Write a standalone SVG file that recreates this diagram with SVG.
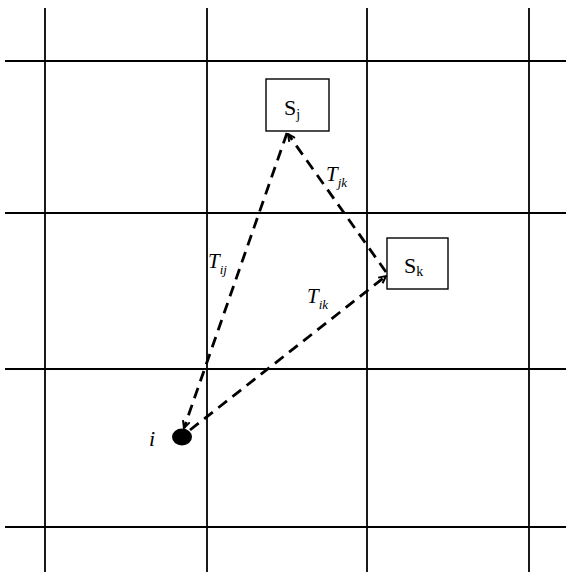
<svg xmlns="http://www.w3.org/2000/svg" width="566" height="572" viewBox="0 0 566 572">
<style>
.grid{stroke:#000;stroke-width:1.8;fill:none}
.box{fill:#fff;stroke:#000;stroke-width:1.4}
.dash{stroke:#000;stroke-width:2.8;stroke-dasharray:11 7;fill:none}
.t{font-family:"Liberation Serif",serif;fill:#000}
.it{font-style:italic}
</style>
<defs>
<marker id="ah" viewBox="0 0 10 10" refX="9" refY="5" markerWidth="3.2" markerHeight="3.2" orient="auto" markerUnits="strokeWidth">
<path d="M1,1 L9,5 L1,9" fill="none" stroke="#000" stroke-width="2.2"/>
</marker>
</defs>
<rect width="566" height="572" fill="#fff"/>
<g id="grid">
<line class="grid" x1="45" y1="8" x2="45" y2="572"/>
<line class="grid" x1="207" y1="8" x2="207" y2="572"/>
<line class="grid" x1="367" y1="8" x2="367" y2="572"/>
<line class="grid" x1="529" y1="8" x2="529" y2="572"/>
<line class="grid" x1="5" y1="61" x2="566" y2="61"/>
<line class="grid" x1="5" y1="213" x2="566" y2="213"/>
<line class="grid" x1="5" y1="369" x2="566" y2="369"/>
<line class="grid" x1="5" y1="527" x2="566" y2="527"/>
</g>
<g id="connectors">
<line class="dash" x1="287" y1="133" x2="184" y2="428" marker-end="url(#ah)"/>
<line class="dash" x1="386" y1="272" x2="288" y2="134" marker-end="url(#ah)"/>
<line class="dash" x1="190" y1="430" x2="386" y2="276" marker-end="url(#ah)"/>
<text class="t it" x="208" y="268" font-size="21">T<tspan font-size="13" dy="6">ij</tspan></text>
<text class="t it" x="326" y="181" font-size="21">T<tspan font-size="13" dy="6">jk</tspan></text>
<text class="t it" x="307" y="303" font-size="21">T<tspan font-size="13" dy="6">ik</tspan></text>
</g>
<g id="node-sj">
<rect class="box" x="266" y="79" width="63" height="52"/>
<text class="t" x="284" y="115" font-size="22">S<tspan font-size="14" dy="4">j</tspan></text>
</g>
<g id="node-sk">
<rect class="box" x="387" y="238" width="61" height="51"/>
<text class="t" x="404" y="273" font-size="22">S<tspan font-size="14" dy="3">k</tspan></text>
</g>
<g id="node-i">
<ellipse cx="182" cy="437" rx="10" ry="8.5" fill="#000"/>
<text class="t it" x="149" y="446" font-size="22">i</text>
</g>
</svg>
